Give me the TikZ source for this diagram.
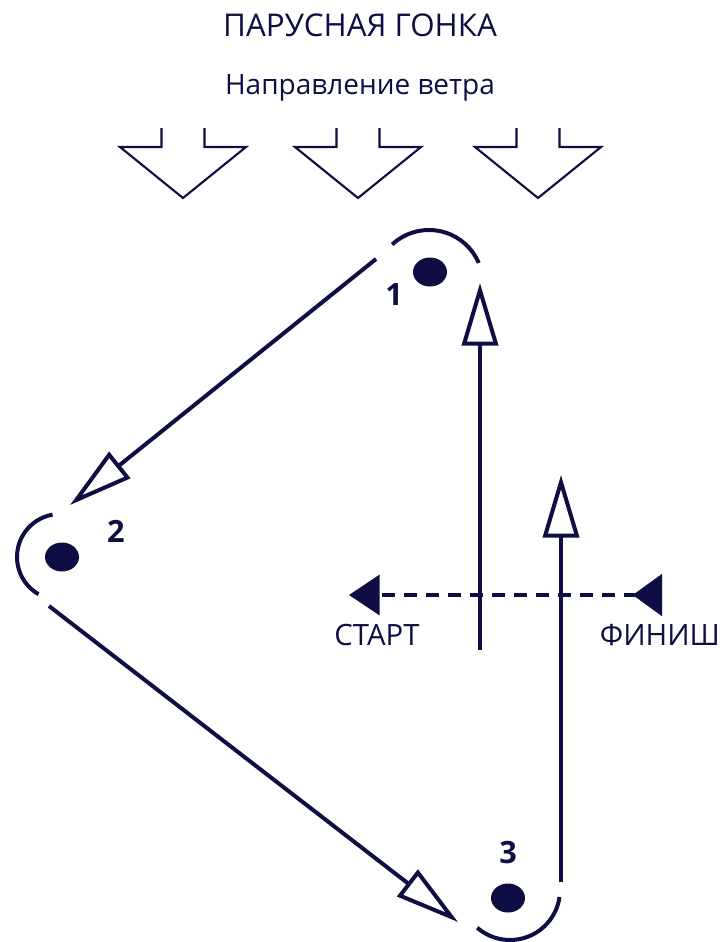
\documentclass[tikz,border=0pt]{standalone}
\usepackage{fontspec}
\setmainfont{Open Sans}
\usetikzlibrary{arrows.meta,shapes.geometric}
\definecolor{navy}{RGB}{14,14,68}
\tikzset{
  course/.style={line width=3pt,navy},
  leg/.style={course,-{Triangle[open,length=48pt,width=25pt]}},
  upleg/.style={course,-{Triangle[open,length=47pt,width=27pt]}},
  buoy/.style={ellipse,fill=navy,minimum width=25.5pt,minimum height=21.75pt,inner sep=0pt},
  buoylabel/.style={anchor=base,navy,font=\bfseries\fontsize{23}{23}\selectfont},
  marklabel/.style={anchor=base,navy,font=\fontsize{22}{22}\selectfont},
  wind/.style={line width=1.6pt,navy,line join=miter},
}

\begin{document}
\begin{tikzpicture}[x=0.75pt,y=0.75pt]
  \useasboundingbox (0,0) rectangle (725,-942);

  % Titles
  \node[anchor=base,navy,font=\fontsize{23.5}{23.5}\selectfont] (title) at (360,-37) {ПАРУСНАЯ ГОНКА};
  \node[anchor=base,navy,font=\fontsize{21}{21}\selectfont] (windlabel) at (360,-94) {Направление ветра};

  % Wind arrows
  \foreach \cx in {183,358,538}
    \draw[wind] (\cx-21.5,-128) -- (\cx-21.5,-147) -- (\cx-63,-147) -- (\cx,-198)
      -- (\cx+63,-147) -- (\cx+21.5,-147) -- (\cx+21.5,-128);

  % Buoys
  \node[buoy] (buoy1) at (430,-272) {};
  \node[buoy] (buoy2) at (62,-557) {};
  \node[buoy] (buoy3) at (508,-898) {};
  \node[buoylabel] (num1) at (394,-305) {1};
  \node[buoylabel] (num2) at (116,-542) {2};
  \node[buoylabel] (num3) at (508,-863) {3};

  % Roundings
  \draw[course] (429,-284) ++(133:54) arc[start angle=133,end angle=23,radius=54];
  \draw[course] (60,-557) ++(100:43) arc[start angle=100,end angle=240,radius=43];
  \draw[course] (510,-890) ++(229:50) arc[start angle=229,end angle=352,radius=50];

  % Legs
  \coordinate (legAs) at (376,-259);
  \coordinate (legAe) at (70,-505);
  \coordinate (legBs) at (49,-606);
  \coordinate (legBe) at (458,-922);
  \coordinate (legCs) at (561,-882);
  \coordinate (legCe) at (561,-475);
  \coordinate (legDs) at (480,-650);
  \coordinate (legDe) at (480,-283);
  \draw[leg] (legAs) -- (legAe);
  \draw[leg] (legBs) -- (legBe);
  \draw[upleg] (legCs) -- (legCe);
  \draw[upleg] (legDs) -- (legDe);

  % Start / finish line
  \coordinate (finish) at (662,-595);
  \coordinate (start) at (349,-595);
  \draw[line width=3pt,navy,dash pattern=on 9.75pt off 6.75pt,
    {Triangle[reversed,length=22pt,width=31pt]}-{Triangle[length=23pt,width=30pt]}] (finish) -- (start);
  \node[marklabel] (startlabel) at (377,-645) {СТАРТ};
  \node[marklabel] (finishlabel) at (660,-645) {ФИНИШ};
\end{tikzpicture}
\end{document}
